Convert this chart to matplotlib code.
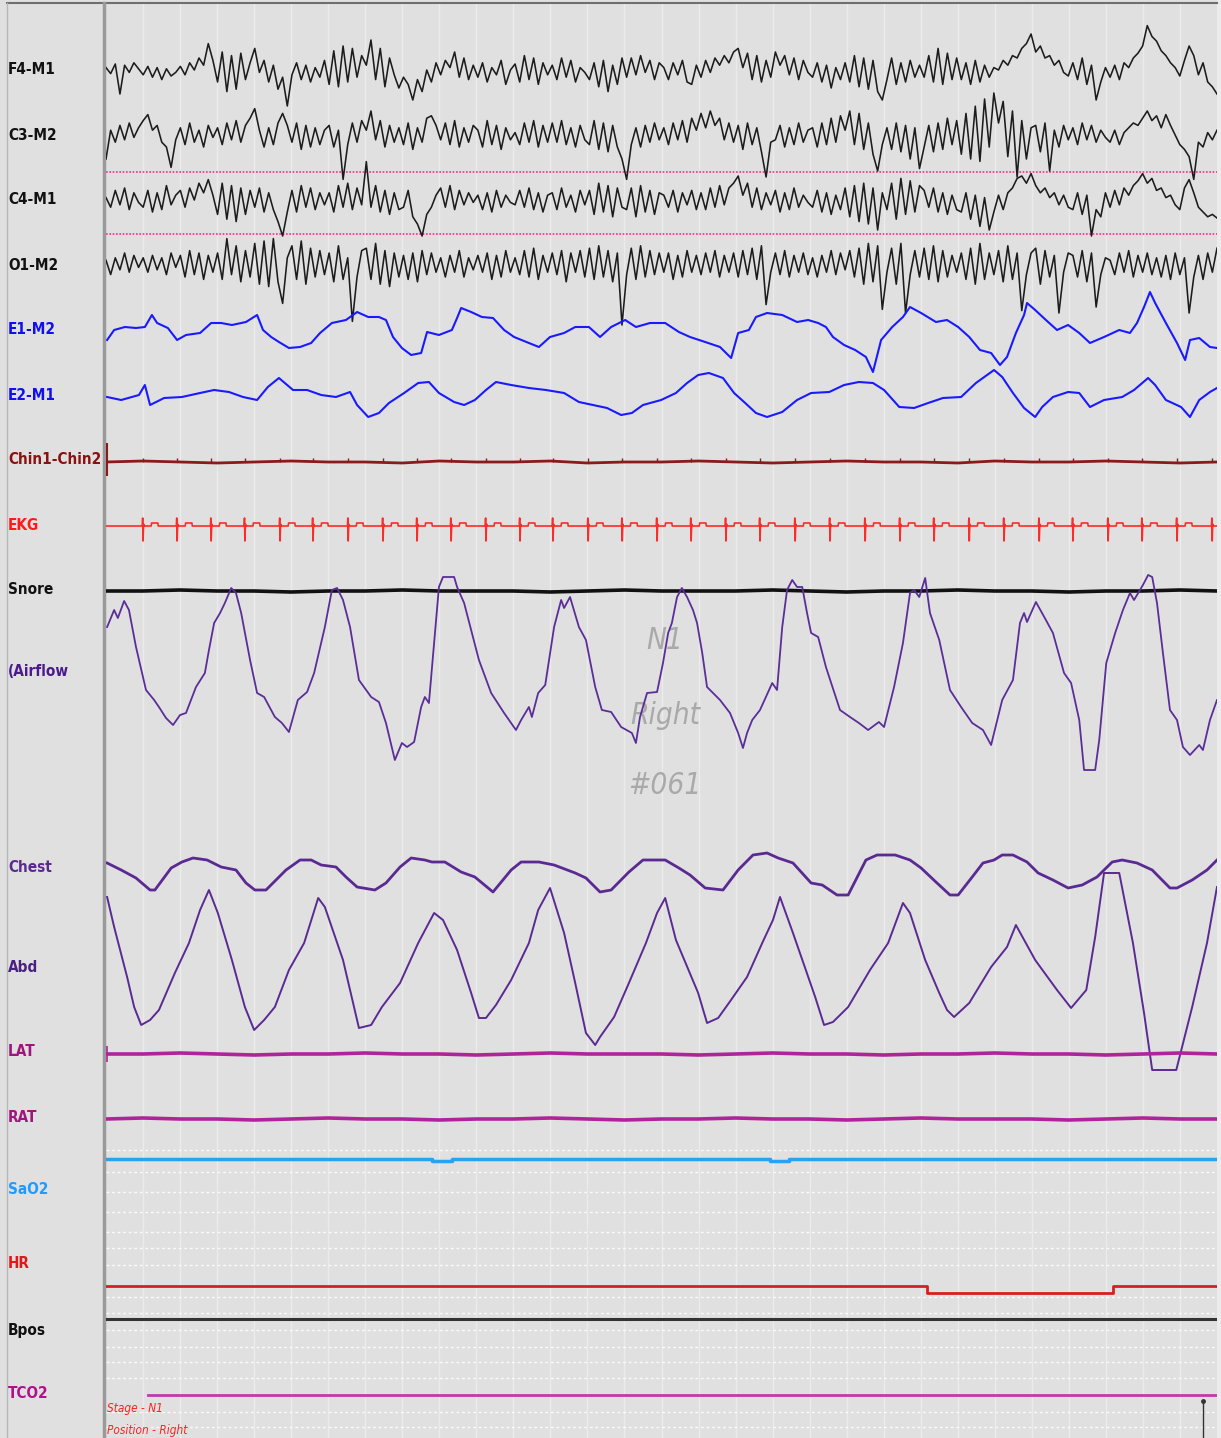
import matplotlib.pyplot as plt
from matplotlib import font_manager as fm
import numpy as np

# --- canales EEG (px de desplazamiento, + hacia arriba), 8 muestras por segundo ---
f4_m1 = [2,-3,5,-20,4,-2,6,1, -4,3,-6,2,-8,1,-5,-2, 3,-4,6,0,10,4,22,8, -10,15,-18,12,-16,14,-8,6,
         18,-2,8,-10,4,-16,-6,-30, -4,6,-8,4,-10,2,-6,8, -12,16,-14,20,-10,18,-6,12, 4,25,-8,18,-14,10,-4,-15,
         -6,-12,-25,-8,-18,0,-10,6, -4,8,2,15,-6,10,-8,4, -6,6,-10,2,-4,8,-12,0, 5,-10,12,-8,10,-12,6,-4,
         4,-8,10,-6,8,-10,2,-2, -8,6,-14,8,-18,4,-12,10, -6,10,-4,12,-2,8,-8,6, 2,-8,6,-4,8,-10,-12,4,
         -6,8,-2,10,4,12,6,15, 18,2,14,-8,12,-10,8,-6, 15,4,12,-4,10,-8,8,-2, -6,6,-10,4,-15,2,-8,6,
         -10,12,-14,10,-16,8,-18,-25, -8,10,-12,6,-10,8,-6,4, -6,12,-10,18,-12,14,-8,10, -8,6,-12,8,-10,4,-6,2,
         0,8,4,12,10,18,22,30, 15,20,10,12,4,8,-2,-5, 6,-8,10,-12,4,-25,-10,2, -6,4,-8,6,2,10,14,20,
         37,28,24,16,12,6,2,-5, 8,20,12,-4,6,-10,-14,-20]
c3_m2 = [-20,4,-6,8,-4,10,-2,6, 12,17,4,8,-6,-10,-27,-4, 6,-8,10,-6,4,-10,8,-2, 6,-8,10,-4,12,-6,8,14,
         22,4,-10,6,-8,10,18,8, -6,10,-12,8,-10,6,-8,4, 8,-10,4,-37,-8,10,-6,12, 4,20,-4,12,-10,8,-6,6,
         -8,10,-12,6,-6,14,16,8, -4,10,-8,12,-10,6,-6,8, 4,-10,12,-8,8,-12,6,-4, 2,-8,10,-6,12,-10,8,-6,
         10,-6,12,-8,6,-10,8,-4, -8,12,-12,10,-14,8,-10,-20, -37,-8,6,-10,8,-6,10,-4, 6,-8,10,-4,12,-6,14,4,
         18,6,20,8,14,-4,10,-6, 8,-12,10,-8,6,-14,-35,-6, -4,8,-10,6,-8,10,-6,4, 6,-10,10,-8,14,-6,16,4,
         20,-8,18,-12,10,-16,-30,-8, 6,-12,10,-14,8,-20,6,-28, -10,8,-14,10,-12,14,-8,12, -16,18,-20,24,-22,30,-10,35,
         10,28,-18,20,-35,12,-20,6, 8,-14,10,-30,4,-10,8,-4, 6,-8,10,-4,8,-6,4,-2, -6,4,-8,2,6,10,8,14,
         20,12,16,6,17,8,0,-8, -12,-18,-37,-6,-10,2,-4,4]
c4_m1 = [2,-6,8,-4,10,-8,6,-2, -6,8,-10,6,-8,12,-4,4, 8,-6,10,0,14,6,17,4, -12,14,-16,12,-18,10,-12,8,
         -6,10,-10,6,-8,-18,-30,-10, 8,-10,12,-6,10,-8,6,-4, 6,-10,12,-6,14,-8,10,-4, 32,-6,12,-10,8,-12,6,-8,
         -6,8,-14,-20,-30,-12,-6,4, 10,-6,12,-8,8,-4,6,-2, 4,-8,6,-10,8,-6,4,-2, -4,8,-6,10,-8,6,-10,4,
         6,-8,10,-6,4,-10,8,-4, 8,-12,14,-10,12,-14,10,-6, -8,10,-14,12,-10,8,-12,6, 4,-6,8,-10,6,-4,8,-8,
         6,-8,10,-6,12,-4,10,14, 20,4,14,-6,10,-8,6,-4, 8,-10,6,-8,10,-6,4,-2, -6,8,-10,6,-12,4,-8,10,
         -14,12,-18,14,-20,10,-25,6, -8,14,-16,18,-12,16,-10,12, 8,-6,10,-10,6,-12,4,-8, -10,6,-16,4,-22,2,-25,-10,
         4,-8,6,10,18,20,14,22, 12,6,10,2,6,-4,4,-6, -8,6,-12,4,-30,-8,-14,6, -6,8,-4,10,4,12,16,22,
         14,18,8,10,2,4,-4,-8, 10,17,6,-6,-10,-14,-12,-15]
o1_m2 = [4,-8,6,-4,10,-6,8,-2, 6,-6,8,-4,6,-8,10,-2, 8,-10,12,-8,10,-12,8,-6, 10,-12,22,-8,16,-14,12,-10,
         18,-16,20,-18,22,-14,-32,6, 16,-12,20,-16,14,-10,12,-8, 10,-14,16,-12,6,-47,-10,12, 14,-12,18,-16,12,-18,10,-10,
         8,-12,10,-14,12,-8,10,-6, 6,-10,8,-6,12,-10,6,-4, 8,-6,10,-12,8,-10,12,-6, 6,-8,12,-10,14,-12,8,-6,
         10,-8,12,-14,10,-6,12,-10, 14,-12,16,-10,12,-14,10,-50, -8,14,-12,16,-10,12,-8,10, -6,10,-12,8,-10,12,-6,8,
         -8,10,-6,12,-10,8,-6,10, -10,12,-8,14,-12,16,-33,-6, 10,-8,12,-10,8,-6,10,-8, 6,-10,8,-6,12,-8,10,-4,
         12,-10,14,-16,18,-14,16,-37, -6,14,-16,18,-40,-8,12,-10, 14,-12,16,-14,12,-10,8,-6, 10,-12,14,-16,18,-12,10,-8,
         12,-14,16,-12,10,-38,-8,10, 14,-16,12,-10,8,-40,-6,10, 8,-10,12,-14,10,-35,-8,6, 4,-8,10,-6,12,-10,8,-6,
         10,-8,6,-10,8,-12,10,-8, 6,-40,-10,8,-12,10,-6,14]
eeg_gain = 1.2

# --- EOG (tiempo en s, desplazamiento en px) ---
e1_t = [0.03,0.22,0.51,0.81,1.05,1.24,1.38,1.67,1.92,2.16,2.54,2.84,3.11,3.40,3.78,4.08,4.24,4.46,4.67,4.94,
        5.24,5.54,5.78,6.10,6.48,6.78,7.08,7.37,7.56,7.75,7.99,8.24,8.51,8.67,8.99,9.34,9.48,9.59,9.86,10.15,
        10.45,10.75,11.02,11.42,11.69,11.99,12.37,12.67,13.04,13.34,13.64,14.02,14.31,14.69,15.10,15.47,15.77,16.18,16.58,16.88,
        17.07,17.36,17.55,17.85,18.26,18.66,18.96,19.23,19.44,19.63,19.93,20.23,20.52,20.71,20.93,21.23,21.52,21.71,22.01,22.41,
        22.71,23.01,23.31,23.60,23.90,24.14,24.33,24.57,24.79,24.87,25.09,25.38,25.68,25.98,26.28,26.57,26.95,27.36,27.65,27.84,
        28.03,28.19,28.33,28.62,28.92,29.14,29.27,29.52,29.81,30.00]
e1_v = [-10,0,3,2,3,15,7,2,-10,-5,-3,7,7,5,8,15,0,-7,-12,-18,
        -17,-13,-3,7,10,18,13,13,10,-7,-18,-25,-23,-2,-5,0,12,22,18,13,
        12,0,-7,-13,-17,-7,-3,3,3,-7,3,10,3,7,7,-2,-7,-12,-17,-28,
        -3,0,13,17,15,8,10,7,3,-7,-15,-20,-27,-42,-10,3,13,23,17,8,
        10,3,-7,-20,-23,-35,-27,-3,15,27,20,10,0,5,-3,-13,-7,0,-3,7,
        23,38,27,7,-13,-30,-10,-8,-17,-18]
e2_t = [0.03,0.41,0.89,1.05,1.19,1.57,2.05,2.54,2.92,3.32,3.70,4.08,4.37,4.67,5.05,5.43,5.81,6.21,6.59,6.78,
        7.08,7.37,7.64,8.05,8.43,8.72,8.99,9.40,9.67,9.96,10.26,10.53,10.94,11.42,11.88,12.37,12.77,13.15,13.53,13.91,
        14.20,14.50,14.99,15.39,15.69,15.99,16.28,16.66,16.96,17.26,17.55,17.85,18.26,18.66,19.04,19.53,19.93,20.33,20.71,21.01,
        21.42,21.82,22.20,22.60,23.09,23.49,23.98,24.20,24.49,24.79,25.09,25.28,25.57,25.98,26.28,26.57,26.95,27.44,27.76,28.14,
        28.33,28.62,29.03,29.27,29.52,29.81,30.00]
e2_v = [-2,-5,0,10,-10,-3,-2,2,5,3,-2,-5,8,17,5,5,0,-2,3,-10,
        -22,-18,-8,2,12,13,2,-7,-10,-5,5,13,10,7,5,2,-7,-10,-13,-20,
        -18,-10,-5,2,12,20,22,17,2,-8,-18,-22,-17,-5,2,3,10,13,12,5,
        -12,-13,-8,-3,-2,12,25,18,2,-13,-22,-12,-2,3,2,-12,-5,-2,5,17,
        10,-5,-12,-22,-5,3,7]

# --- respiración ---
airflow_t = [0.03,0.22,0.32,0.49,0.62,0.81,1.08,1.30,1.43,1.62,1.81,2.00,2.16,2.43,2.67,2.78,2.92,3.08,3.21,3.38,
             3.51,3.65,3.89,4.08,4.27,4.56,4.75,4.94,5.18,5.43,5.62,5.91,6.10,6.24,6.40,6.59,6.83,7.16,7.37,7.56,
             7.80,7.99,8.13,8.32,8.51,8.61,8.72,8.86,8.99,9.10,9.40,9.48,9.67,10.07,10.40,10.75,11.07,11.21,11.42,11.50,
             11.67,11.86,12.10,12.29,12.37,12.53,12.77,12.96,13.21,13.39,13.64,13.91,14.20,14.31,14.42,14.61,14.88,15.04,15.18,15.28,
             15.42,15.55,15.69,15.85,15.96,16.10,16.23,16.39,16.58,16.85,17.07,17.20,17.31,17.45,17.66,17.99,18.12,18.26,18.39,18.53,
             18.66,18.80,18.93,19.04,19.23,19.44,19.82,20.09,20.33,20.58,20.87,21.01,21.28,21.52,21.71,21.82,21.96,22.12,22.25,22.50,
             22.79,23.09,23.39,23.68,23.90,24.20,24.49,24.68,24.79,24.87,25.11,25.38,25.57,25.87,26.06,26.28,26.41,26.71,26.82,27.01,
             27.25,27.46,27.65,27.76,28.00,28.14,28.25,28.38,28.54,28.73,28.92,29.08,29.27,29.52,29.62,29.81,30.00]
airflow_v = [43,60,52,69,60,23,-20,-30,-37,-48,-55,-45,-43,-17,-3,20,47,57,67,82,
             77,57,10,-23,-27,-47,-53,-62,-30,-22,-3,43,80,82,70,43,-10,-27,-32,-53,
             -90,-73,-77,-72,-37,-27,-33,27,83,93,93,83,67,10,-23,-43,-60,-50,-37,-47,
             -23,-15,43,70,62,73,43,30,-17,-40,-42,-57,-63,-73,-47,-23,-22,7,37,47,
             73,82,73,60,47,17,-17,-23,-30,-43,-63,-78,-63,-50,-40,-13,-20,43,80,90,
             83,83,57,37,33,3,-40,-47,-53,-60,-52,-57,-17,27,77,80,73,92,57,30,
             -20,-37,-53,-60,-75,-30,-10,47,57,48,68,50,37,-3,-13,-50,-100,-100,-70,7,
             37,60,77,70,85,95,93,67,17,-40,-50,-77,-85,-75,-80,-50,-30]
chest_t = [0.03,0.41,0.81,1.19,1.32,1.76,2.05,2.35,2.73,3.11,3.51,3.78,4.02,4.32,4.86,5.24,5.54,5.81,6.21,6.48,
           6.78,7.26,7.56,7.94,8.24,8.61,8.80,9.15,9.59,9.96,10.45,10.94,11.21,11.69,12.10,12.67,12.96,13.34,13.64,14.12,
           14.50,15.10,15.47,15.77,16.18,16.66,17.07,17.47,17.85,18.15,18.55,19.04,19.34,19.74,20.04,20.52,20.82,21.31,21.71,22.01,
           22.41,22.79,23.01,23.39,23.68,23.98,24.20,24.49,24.87,25.17,25.57,25.98,26.36,26.76,27.17,27.44,27.84,28.25,28.73,28.92,
           29.33,29.73,30.00]
chest_v = [7,0,-8,-20,-20,2,8,12,10,3,0,-13,-20,-20,0,10,10,5,3,-7,
           -17,-20,-13,3,12,10,8,8,-2,-7,-22,0,8,8,5,-3,-8,-22,-20,-2,
           10,10,2,-5,-18,-20,0,15,17,12,7,-13,-15,-25,-25,10,15,15,10,2,
           -12,-25,-25,-7,7,10,15,15,8,-3,-10,-18,-15,-7,8,10,7,0,-18,-18,
           -10,0,10]
abd_t = [0.03,0.22,0.57,0.76,0.95,1.19,1.43,1.86,2.24,2.54,2.78,3.02,3.40,3.75,4.00,4.27,4.56,4.94,5.35,5.73,
         5.91,6.40,6.83,7.16,7.45,7.94,8.43,8.86,9.10,9.48,9.86,10.07,10.26,10.53,10.94,11.42,11.67,11.99,12.37,12.67,
         12.96,13.21,13.34,13.72,14.12,14.58,14.88,15.10,15.39,15.99,16.23,16.53,16.82,17.31,17.72,18.01,18.20,18.55,19.15,19.39,
         19.63,20.04,20.63,21.12,21.52,21.71,22.12,22.50,22.71,22.90,23.31,23.90,24.33,24.57,25.09,25.68,26.06,26.47,26.71,26.95,
         27.36,27.73,28.03,28.25,28.90,29.33,29.73,30.00]
abd_v = [63,33,-17,-47,-65,-60,-50,-13,17,50,70,47,0,-47,-70,-60,-47,-10,17,62,
         53,0,-68,-65,-47,-23,17,47,40,10,-33,-58,-58,-45,-20,17,50,72,27,-23,
         -73,-85,-77,-57,-23,17,47,62,20,-33,-63,-58,-43,-17,17,40,63,27,-37,-65,
         -62,-47,-10,17,57,47,0,-33,-50,-57,-43,-7,13,35,0,-30,-48,-30,23,87,
         87,17,-53,-110,-110,-47,17,73]

# --- otros canales ---
ekg_beats = [1.00,1.92,2.84,3.75,4.70,5.59,6.54,7.48,8.40,9.32,10.26,11.18,12.07,13.02,13.94,14.88,
             15.80,16.74,17.66,18.61,19.55,20.50,21.44,22.36,23.31,24.25,25.20,26.11,27.06,27.98,28.92,29.87]
chin_v = [0,1,0,-1,0,1,0,0,-1,1,0,0,1,-1,0,0,1,0,-1,0,1,0,0,-1,1,0,0,1,0,-1,0]
snore_v = [0,0,1,0,0,-1,0,0,1,0,0,0,-1,0,1,0,0,0,1,0,-1,0,0,1,0,0,-1,0,0,1,0]
lat_v = [0,0,1,0,-1,0,0,1,0,0,-1,0,1,0,0,0,-1,0,1,0,0,-1,0,0,1,0,0,-1,0,1,0]
rat_v = [0,1,0,0,-1,0,1,0,0,-1,0,0,1,0,-1,0,0,1,0,0,-1,0,1,0,0,0,-1,0,1,0,0]
sao2_t = [0, 8.81, 9.35, 17.94, 18.43, 30]
sao2_v = [0, -2, 0, -2, 0, 0]
hr_t = [0, 22.17, 27.19, 30]
hr_v = [0, -7, 0, 0]
tco2_start = 1.13
marker_t = 29.62

labels = ["F4-M1", "C3-M2", "C4-M1", "O1-M2", "E1-M2", "E2-M1", "Chin1-Chin2", "EKG", "Snore",
          "(Airflow", "Chest", "Abd", "LAT", "RAT", "SaO2", "HR", "Bpos", "TCO2"]
label_y = [70, 135, 200, 265, 330, 395, 460, 525, 590, 672, 868, 968, 1052, 1117, 1190, 1263, 1330, 1393]
label_col = ["#111111", "#111111", "#111111", "#111111", "#1010ee", "#1010ee", "#8b1010", "#ff1a1a", "#111111",
             "#4b1a8c", "#5a2a92", "#4a2080", "#a0147e", "#a0147e", "#1e9bff", "#e01818", "#111111", "#b0108c"]


# fuente estrecha si la hay
def buscar_fuente(bold, italic):
    for f in fm.fontManager.ttflist:
        fn = f.fname.lower().replace("_", "").replace("-", "")
        if "serif" in fn or "mono" in fn:
            continue
        if "narrow" in fn or "condensed" in fn:
            es_b = "bold" in fn
            es_i = "italic" in fn or "oblique" in fn
            if es_b == bold and es_i == italic:
                return fm.FontProperties(fname=f.fname)
    fp = fm.FontProperties(family="Liberation Sans")
    fp.set_weight("bold" if bold else "normal")
    fp.set_style("italic" if italic else "normal")
    return fp


fp_lab = buscar_fuente(True, False)
fp_ital = buscar_fuente(False, True)

W, H = 1221, 1438
fig = plt.figure(figsize=(W / 100, H / 100), dpi=100)
fig.patch.set_facecolor("#e0e0e0")
renderer = fig.canvas.get_renderer()


def ajustar(texto, fp, ancho, maximo):
    t = fig.text(0, 0, texto, fontproperties=fp, size=maximo)
    w = t.get_window_extent(renderer).width
    t.remove()
    return min(maximo, maximo * ancho / w)


size_lab = ajustar("Chin1-Chin2", fp_lab, 93, 18)
size_wm = ajustar("Right", fp_ital, 70, 30)
size_stage = ajustar("Stage - N1", fp_ital, 56, 14)

# fondo / panel de etiquetas en px
bg = fig.add_axes([0, 0, 1, 1])
bg.set_xlim(0, W)
bg.set_ylim(H, 0)
bg.axis("off")
bg.fill_between([1217, W], 0, H, color="#ececec", lw=0)
bg.plot([7, 1217], [3, 3], color="#6e6e6e", lw=1.5)
bg.plot([7, 7], [3, H], color="#b8b8b8", lw=1)
bg.plot([104, 104], [3, H], color="#9a9a9a", lw=2.5)
for lab, y, c in zip(labels, label_y, label_col):
    bg.text(8, y, lab, color=c, fontproperties=fp_lab, size=size_lab, va="center", ha="left")

# area de trazados: x en segundos, y en px de pantalla
ax = fig.add_axes([106 / W, 0, 1111 / W, 1 - 4 / H])
ax.set_xlim(0, 30)
ax.set_ylim(H, 4)
ax.axis("off")
ax.set_zorder(2)

for s in range(1, 30):
    ax.axvline(s, color="#ebebeb", lw=1, zorder=0)
for y in [1150, 1172, 1192, 1212, 1232, 1248, 1265, 1297, 1313, 1330, 1347, 1362, 1378, 1412, 1427]:
    ax.axhline(y, color="white", lw=1, ls=(0, (2, 2)), alpha=0.85, zorder=0)
for y in [172, 234]:
    ax.axhline(y, color="#ff2d8a", lw=1.2, ls=(0, (1, 1)), zorder=1)


def trace(t, v, base, gain=1.0, **kw):
    ax.plot(t, base - gain * np.asarray(v, dtype=float), **kw)


for vals, base in zip([f4_m1, c3_m2, c4_m1, o1_m2], [70, 135, 200, 265]):
    trace(np.linspace(0, 30, len(vals)), vals, base, gain=eeg_gain, color="#1c1c1c", lw=1.15)

trace(e1_t, e1_v, 330, color="#1a1aff", lw=1.5)
trace(e2_t, e2_v, 395, color="#1a1aff", lw=1.5)

# chin
trace(np.linspace(0, 30, len(chin_v)), chin_v, 462, color="#8b1a1a", lw=2)
ax.vlines(ekg_beats, 458, 462, color="#8b1a1a", lw=1)
ax.vlines([0.03], 443, 476, color="#8b1a1a", lw=1.5)

# EKG
shape_t = [-0.05, -0.02, -0.01, 0.0, 0.015, 0.03, 0.22, 0.23, 0.40, 0.41]
shape_v = [0, 0, 8, -15, 2, 0, 0, 3, 3, 0]
et, ev = [0.0], [0.0]
for b in ekg_beats:
    for dt, dv in zip(shape_t, shape_v):
        if 0 < b + dt < 30:
            et.append(b + dt)
            ev.append(dv)
et.append(30.0)
ev.append(0.0)
trace(et, ev, 526, color="#ff2a2a", lw=1.2)

trace(np.linspace(0, 30, len(snore_v)), snore_v, 591, color="#111111", lw=2.6)

trace(airflow_t, airflow_v, 670, color="#5b2d98", lw=1.3)
trace(chest_t, chest_v, 870, color="#5a2a92", lw=2.0)
trace(abd_t, abd_v, 960, color="#5a2a92", lw=1.4)

trace(np.linspace(0, 30, len(lat_v)), lat_v, 1054, color="#b0249a", lw=2.6)
trace(np.linspace(0, 30, len(rat_v)), rat_v, 1119, color="#b0249a", lw=2.6)
ax.vlines([0.03], 1046, 1062, color="#b0249a", lw=1.2)

ax.step(sao2_t, 1159 - np.asarray(sao2_v), where="post", color="#29a3f0", lw=2.5)
ax.step(hr_t, 1286 - np.asarray(hr_v), where="post", color="#d91e1e", lw=2)
ax.axhline(1319, color="#333333", lw=2.2)
ax.plot([tco2_start, 30], [1395, 1395], color="#c03aa8", lw=2)
ax.vlines([marker_t], 1401, H, color="#333333", lw=1)
ax.plot([marker_t], [1401], marker="o", ms=2.5, color="#333333")

# marca de agua
for txt, y in zip(["N1", "Right", "#061"], [640, 715, 785]):
    ax.text((665 - 106) / 37.03, y, txt, color="#a9a9a9", fontproperties=fp_ital, size=size_wm,
            ha="center", va="center", zorder=1)

ax.text(0.03, 1408, "Stage - N1", color="#ff2020", fontproperties=fp_ital, size=size_stage,
        ha="left", va="center")
ax.text(0.03, 1437, "Position - Right", color="#ff2020", fontproperties=fp_ital, size=size_stage,
        ha="left", va="bottom")

fig.savefig("out.png", dpi=100, facecolor=fig.get_facecolor())
